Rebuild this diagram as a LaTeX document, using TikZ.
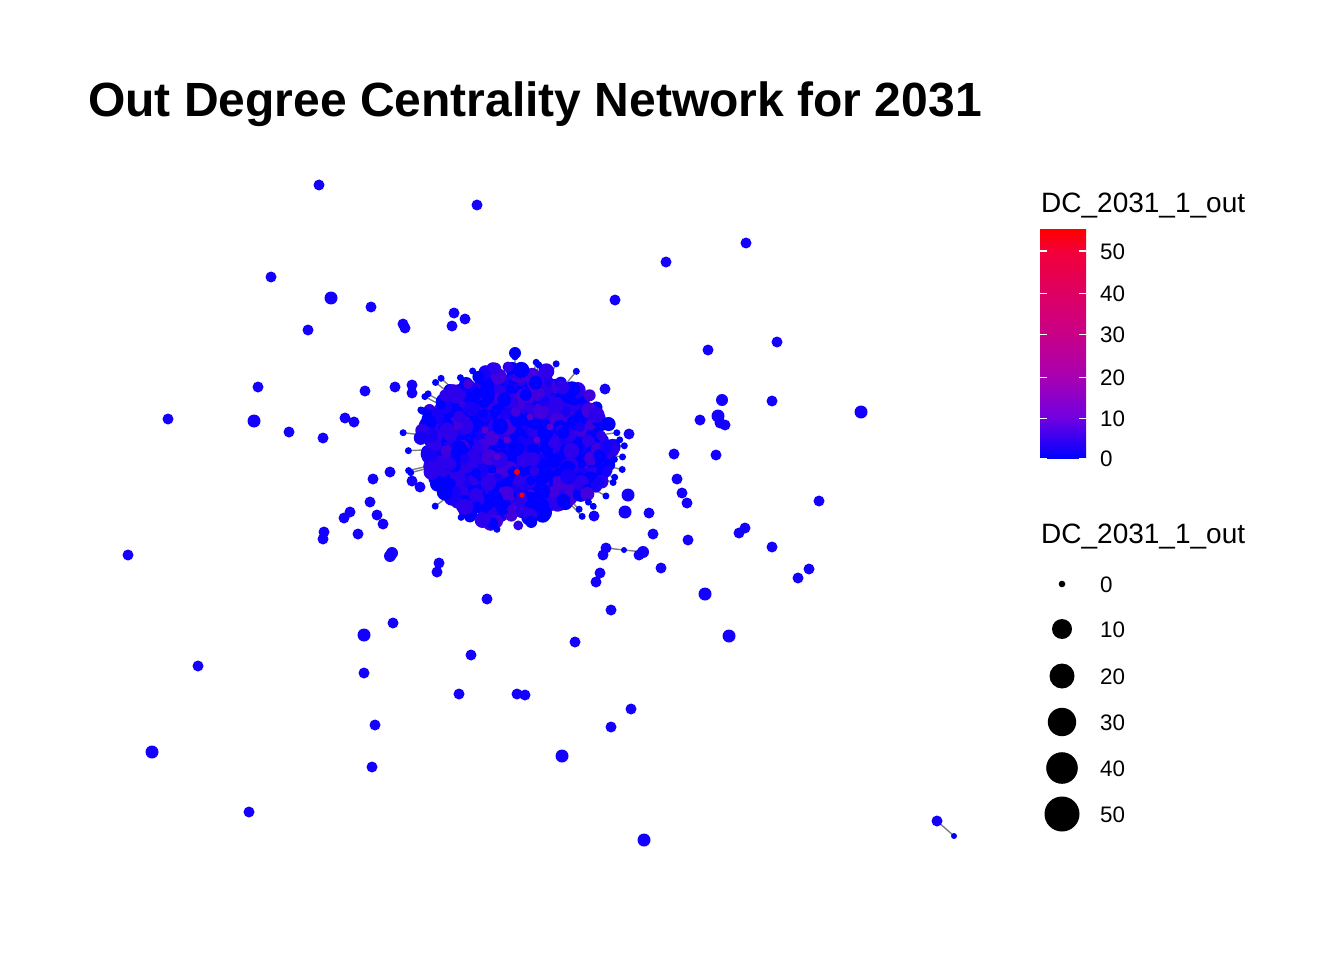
\documentclass[tikz,border=0pt]{standalone}
\usepackage{fontspec}
\setmainfont{Liberation Sans}

% colour bar for the out degree scale (tikz maps the path onto 25bp--75bp)
\pgfdeclareverticalshading{dcBar}{100bp}{rgb(0bp)=(0,0,1); rgb(25bp)=(0,0,1); rgb(34bp)=(0.45,0,0.88); rgb(43bp)=(0.66,0,0.69); rgb(52.5bp)=(0.79,0,0.53); rgb(61.5bp)=(0.87,0,0.38); rgb(70.5bp)=(0.95,0,0.22); rgb(75bp)=(1,0,0); rgb(100bp)=(1,0,0)}

\begin{document}
\begin{tikzpicture}[x=1pt, y=-1pt,
    edgeLine/.style={draw=edgeGrey, line width=1.4pt},
    legendText/.style={anchor=base west, inner sep=0pt, font=\fontsize{22.4}{27}\selectfont}]
    \def\hubX{515}
    \def\hubY{446}

    \definecolor{nodeBlue}{HTML}{1400FF}
    \definecolor{edgeGrey}{HTML}{808080}
    \definecolor{toneA}{HTML}{0000FF}
    \definecolor{toneB}{HTML}{1800F6}
    \definecolor{toneC}{HTML}{2C00EC}
    \definecolor{toneD}{HTML}{4200DE}
    \definecolor{toneBase}{HTML}{2800F0}
    \definecolor{toneHot}{HTML}{5A00D0}

    \useasboundingbox (0,0) rectangle (1344,960);

    % Title
    \node[anchor=base west, inner sep=0pt, font=\fontsize{48}{58}\selectfont\bfseries] (title) at (88,117) {Out Degree Centrality Network for 2031};

    % Edges between outlying nodes
    \coordinate (chainA) at (606,548);
    \coordinate (chainMid) at (624,550);
    \coordinate (chainB) at (643,552);
    \coordinate (pair) at (937,821);
    \coordinate (pairTip) at (954,836);
    \draw[edgeLine] (chainA) -- (chainMid) -- (chainB);
    \draw[edgeLine] (pair) -- (pairTip);

    % Spokes round the dense core
    \pgfmathsetseed{2031}
    \foreach \i in {1,...,34} {
        \pgfmathsetmacro{\ang}{360*rnd}
        \pgfmathsetmacro{\far}{1.12+0.14*rnd}
        \coordinate (tip\i) at ({\hubX+90*\far*cos(\ang)},{\hubY+72*\far*sin(\ang)});
        \coordinate (hub\i) at ({\hubX+72*cos(\ang)},{\hubY+58*sin(\ang)});
        \draw[edgeLine] (hub\i) -- (tip\i);
    }

    % Dense core
    \fill[toneBase] (\hubX,\hubY) ellipse (84 and 68);
    \foreach \i in {1,...,720} {
        \pgfmathsetmacro{\ang}{360*rnd}
        \pgfmathsetmacro{\rad}{ifthenelse(\i>640, 0.95+0.14*rnd, 1.0*sqrt(rnd))}
        \pgfmathsetmacro{\cx}{\hubX+90*\rad*cos(\ang)}
        \pgfmathsetmacro{\cy}{\hubY+73*\rad*sin(\ang)}
        \pgfmathrandominteger{\tone}{1}{7}
        \pgfmathrandominteger{\sz}{5}{8}
        \ifcase\tone\or
            \fill[toneA] (\cx,\cy) circle (\sz);
        \or
            \fill[toneA] (\cx,\cy) circle (\sz);
        \or
            \fill[toneA] (\cx,\cy) circle (\sz);
        \or
            \fill[toneB] (\cx,\cy) circle (\sz);
        \or
            \fill[toneC] (\cx,\cy) circle (\sz);
        \or
            \fill[toneC] (\cx,\cy) circle (\sz);
        \or
            \fill[toneD] (\cx,\cy) circle (\sz);
        \fi
    }
    \foreach \x/\y in {530/417, 507/440, 537/440, 497/457, 550/427, 485/430}
        \fill[toneHot] (\x,\y) circle (3.5);
    \fill[red] (517,472) circle (3);
    \fill[red] (522,495) circle (2.5);
    \fill[toneA] (515,353) circle (6);
    \fill[toneC] (508,367) circle (5.5);
    \foreach \i in {1,...,34}
        \fill[toneA] (tip\i) circle (3.5);

    % Outlying nodes
    \foreach \x/\y/\r [count=\n] in {319/185/5.5, 477/205/5.5, 746/243/5.5, 666/262/5.5, 271/277/5.5,
        331/298/6.5, 371/307/5.5, 615/300/5.5, 454/313/5.5, 465/319/5.5, 452/326/5.5, 308/330/5.5,
        403/324/5.5, 405/328/5.5, 777/342/5.5, 708/350/5.5, 258/387/5.5, 365/391/5.5, 395/387/5.5,
        412/385/5.5, 412/393/5.5, 605/389/5.5, 722/400/6, 772/401/5.5, 861/412/6.5, 700/420/5.5,
        718/416/6.5, 720/423/5.5, 725/425/5.5, 168/419/5.5, 254/421/6.5, 345/418/5.5, 354/422/5.5,
        289/432/5.5, 323/438/5.5, 629/434/5.5, 607/447/6.5, 674/454/5.5, 716/455/5.5, 607/471/5.5,
        599/482/5.5, 677/479/5.5, 682/493/5.5, 687/503/5.5, 819/501/5.5, 628/495/6.5, 625/512/6.5,
        649/513/5.5, 594/516/5.5, 390/472/5.5, 373/479/5.5, 412/481/5.5, 420/487/5.5, 370/502/5.5,
        350/512/5.5, 344/518/5.5, 377/515/5.5, 383/524/5.5, 324/532/5.5, 323/539/5.5, 358/534/5.5,
        128/555/5.5, 392/553/6, 390/556/6, 439/563/5.5, 437/572/5.5, 393/623/5.5, 364/635/6.5,
        198/666/5.5, 364/673/5.5, 375/725/5.5, 152/752/6.5, 372/767/5.5, 249/812/5.5, 653/534/5.5,
        688/540/5.5, 745/528/5.5, 739/533/5.5, 772/547/5.5, 603/555/5.5, 639/555/5.5, 661/568/5.5,
        600/573/5.5, 596/582/5.5, 809/569/5.5, 798/578/5.5, 705/594/6.5, 611/610/5.5, 487/599/5.5,
        729/636/6.5, 575/642/5.5, 471/655/5.5, 459/694/5.5, 517/694/5.5, 525/695/5.5, 631/709/5.5,
        611/727/5.5, 562/756/6.5, 644/840/6.5} {
        \coordinate (v\n) at (\x,\y);
        \fill[nodeBlue] (v\n) circle (\r);
    }
    \fill[nodeBlue] (chainA) circle (5.5);
    \fill[nodeBlue] (chainB) circle (6);
    \fill[toneA] (chainMid) circle (3);
    \fill[nodeBlue] (pair) circle (5.5);
    \fill[toneA] (pairTip) circle (3);

    % Colour legend
    \node[anchor=base west, inner sep=0pt, font=\fontsize{28}{34}\selectfont] (colourTitle) at (1041,213) {DC\_2031\_1\_out};
    \begin{scope}[y=1pt]
        \shade[shading=dcBar] (1040,-458) rectangle (1086,-230);
    \end{scope}
    \foreach \val/\yy in {50/251, 40/293, 30/334, 20/377, 10/418, 0/458} {
        \draw[white, line width=1pt] (1040,\yy) -- (1047,\yy);
        \draw[white, line width=1pt] (1079,\yy) -- (1086,\yy);
        \node[legendText] (bar\val) at (1100,\yy+8) {\val};
    }

    % Size legend
    \node[anchor=base west, inner sep=0pt, font=\fontsize{28}{34}\selectfont] (sizeTitle) at (1041,543) {DC\_2031\_1\_out};
    \foreach \val/\yy/\rr in {0/584/3.3, 10/629/10, 20/676/12.5, 30/722/14.2, 40/768/15.8, 50/814/17.5} {
        \fill[black] (1062,\yy) circle (\rr);
        \node[legendText] (size\val) at (1100,\yy+8) {\val};
    }

\end{tikzpicture}
\end{document}
